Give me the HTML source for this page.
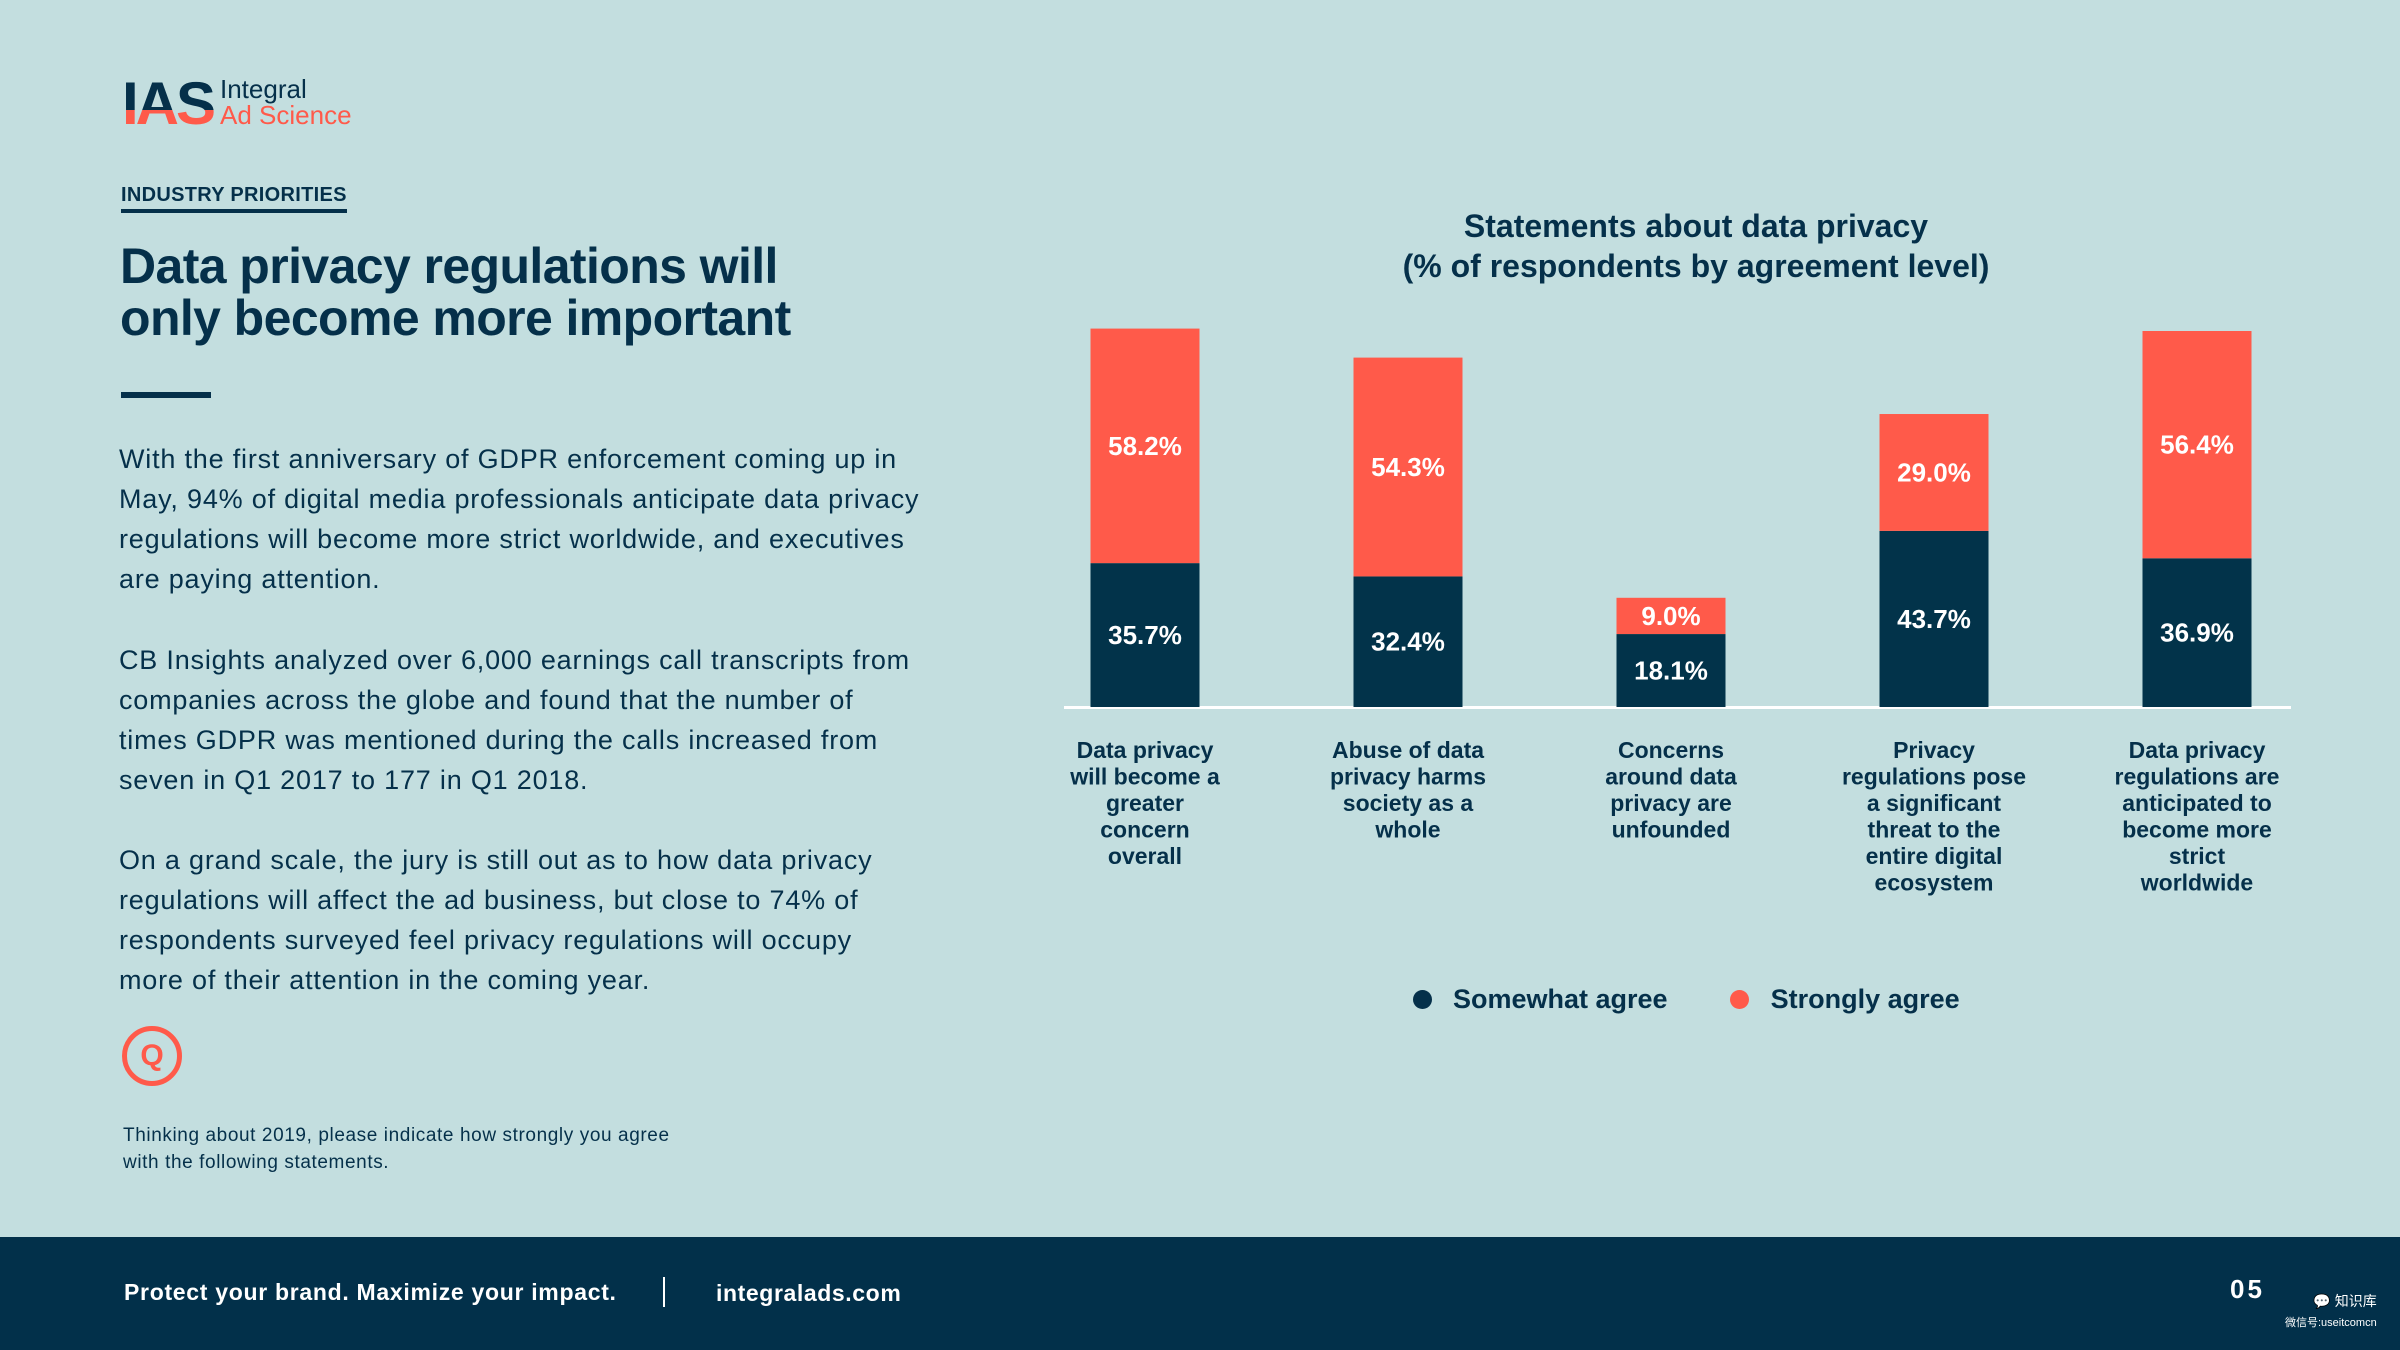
<!DOCTYPE html>
<html><head><meta charset="utf-8"><style>
*{margin:0;padding:0;box-sizing:border-box}
body{width:2400px;height:1350px;background:#c3dedf;font-family:"Liberation Sans",sans-serif;color:#05304a;position:relative;overflow:hidden}
.a{position:absolute}
.p{font-size:27px;line-height:40px;left:119px;width:1000px;white-space:nowrap;letter-spacing:0.8px}
</style></head><body>
<div class="a" style="left:122px;top:74px;width:240px;height:56px">
<svg width="240" height="56">
<defs><linearGradient id="g" x1="0" y1="0" x2="0" y2="1"><stop offset="0.6" stop-color="#05304a"/><stop offset="0.6" stop-color="#ff5a4a"/></linearGradient></defs>
<text x="0" y="50" font-family="Liberation Sans" font-weight="bold" font-size="60" fill="url(#g)" letter-spacing="-3">IAS</text>
<text x="98" y="24" font-family="Liberation Sans" font-size="26" fill="#05304a">Integral</text>
<text x="98" y="50" font-family="Liberation Sans" font-size="26" fill="#ff5a4a">Ad Science</text>
</svg></div>
<div class="a" style="left:121px;top:184px;font-size:20px;font-weight:bold;border-bottom:4px solid #05304a;padding-bottom:2px;letter-spacing:0.3px">INDUSTRY PRIORITIES</div>
<div class="a" style="left:120px;top:240px;font-size:50px;line-height:52px;font-weight:bold;letter-spacing:-0.6px;width:1000px">Data privacy regulations will<br>only become more important</div>
<div class="a" style="left:121px;top:392px;width:90px;height:6px;background:#05304a"></div>
<div class="a p" style="top:439px">With the first anniversary of GDPR enforcement coming up in<br>May, 94% of digital media professionals anticipate data privacy<br>regulations will become more strict worldwide, and executives<br>are paying attention.</div>
<div class="a p" style="top:640px">CB Insights analyzed over 6,000 earnings call transcripts from<br>companies across the globe and found that the number of<br>times GDPR was mentioned during the calls increased from<br>seven in Q1 2017 to 177 in Q1 2018.</div>
<div class="a p" style="top:840px">On a grand scale, the jury is still out as to how data privacy<br>regulations will affect the ad business, but close to 74% of<br>respondents surveyed feel privacy regulations will occupy<br>more of their attention in the coming year.</div>
<div class="a" style="left:122px;top:1026px;width:60px;height:60px;border:5px solid #ff5a4a;border-radius:50%;display:flex;align-items:center;justify-content:center;color:#ff5a4a;font-weight:bold;font-size:30px">Q</div>
<div class="a" style="left:123px;top:1122px;font-size:19px;line-height:27px;width:800px;letter-spacing:0.6px">Thinking about 2019, please indicate how strongly you agree<br>with the following statements.</div>
<div class="a" style="left:1296px;width:800px;top:206px;text-align:center;font-size:32px;line-height:40px;font-weight:bold">Statements about data privacy<br>(% of respondents by agreement level)</div>
<svg class="a" id="chart" style="left:0;top:0" width="2400" height="1100"></svg>
<div class="a" style="left:1413px;top:984px;font-size:27px;font-weight:bold;display:flex;align-items:center;white-space:nowrap">
<span style="width:19px;height:19px;border-radius:50%;background:#05304a;display:inline-block;margin-right:21px"></span><span>Somewhat agree</span>
<span style="width:19px;height:19px;border-radius:50%;background:#ff5a4a;display:inline-block;margin-left:62px;margin-right:22px"></span><span>Strongly agree</span></div>
<div class="a" style="left:0;top:1237px;width:2400px;height:113px;background:#02304a;color:#fff">
<div class="a" style="left:124px;top:42px;font-size:23px;font-weight:bold;letter-spacing:0.7px">Protect your brand. Maximize your impact.</div>
<div class="a" style="left:663px;top:40px;width:2px;height:30px;background:#fff"></div>
<div class="a" style="left:716px;top:43px;font-size:23px;font-weight:bold;letter-spacing:0.6px">integralads.com</div>
<div class="a" style="left:2230px;top:37px;font-size:26px;font-weight:bold;letter-spacing:3px">05</div>
<div class="a" style="left:2285px;top:54px;font-size:14px;line-height:20px;font-family:'Liberation Sans','Noto Sans CJK SC',sans-serif;text-align:right">💬 知识库<br><span style="font-size:11px">微信号:useitcomcn</span></div>
</div>
<script>
const categories=[["Data privacy","will become a","greater","concern","overall"],["Abuse of data","privacy harms","society as a","whole"],["Concerns","around data","privacy are","unfounded"],["Privacy","regulations pose","a significant","threat to the","entire digital","ecosystem"],["Data privacy","regulations are","anticipated to","become more","strict","worldwide"]];
const somewhat=[35.7,32.4,18.1,43.7,36.9];
const strongly=[58.2,54.3,9.0,29.0,56.4];
const labelsSomewhat=["35.7%","32.4%","18.1%","43.7%","36.9%"];
const labelsStrongly=["58.2%","54.3%","9.0%","29.0%","56.4%"];
const NS="http://www.w3.org/2000/svg";
const svg=document.getElementById('chart');
const base=707,pxPer=4.03,bw=109;
function xC(i){return 1145+i*263;}
function y(v){return base-v*pxPer;}
function mk(t,a){const e=document.createElementNS(NS,t);for(const k in a)e.setAttribute(k,a[k]);svg.appendChild(e);return e;}
const ax=mk('rect',{x:1064,y:706,width:1227,height:3,fill:'#ffffff'});


somewhat.forEach((v,i)=>{
 const cx=xC(i),s=strongly[i];
 const r1=mk('rect',{x:cx-bw/2,y:y(v),width:bw,height:v*pxPer,fill:'#02334a'});
 
 
 const r2=mk('rect',{x:cx-bw/2,y:y(v+s),width:bw,height:s*pxPer,fill:'#ff5a4a'});
 
 
 const t1=mk('text',{x:cx,y:y(v/2)+9,'text-anchor':'middle','font-size':26,'font-weight':'bold',fill:'#fff','font-family':'Liberation Sans'});
 t1.textContent=labelsSomewhat[i];
 
 
 const t2=mk('text',{x:cx,y:y(v+s/2)+9,'text-anchor':'middle','font-size':26,'font-weight':'bold',fill:'#fff','font-family':'Liberation Sans'});
 t2.textContent=labelsStrongly[i];
 
 
 categories[i].forEach((ln,j)=>{
  const t=mk('text',{x:cx,y:758+j*26.5,'text-anchor':'middle','font-size':23,'font-weight':'bold',fill:'#05304a','font-family':'Liberation Sans'});
  t.textContent=ln;
  
  
 });
});
</script>
</body></html>
